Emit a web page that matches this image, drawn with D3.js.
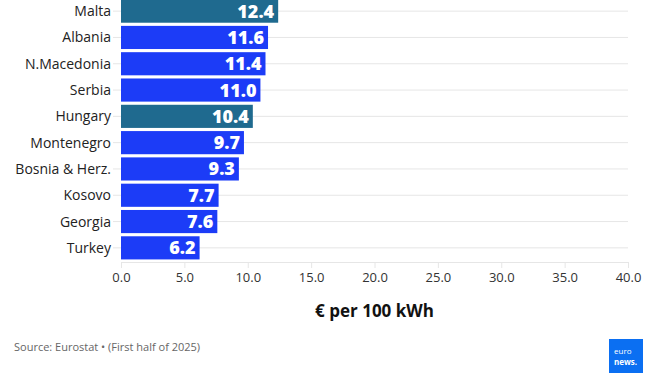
<!DOCTYPE html>
<html><head><meta charset="utf-8">
<script src="https://cdn.jsdelivr.net/npm/d3@7"></script>
<style>
body{margin:0;background:#fff;}
svg{display:block;font-family:"Open Sans",sans-serif;}
</style></head>
<body>
<svg id="c" width="672" height="380"></svg>
<script>
const categories = ["Malta","Albania","N.Macedonia","Serbia","Hungary","Montenegro","Bosnia & Herz.","Kosovo","Georgia","Turkey"];
const values = [12.4,11.6,11.4,11.0,10.4,9.7,9.3,7.7,7.6,6.2];
const highlighted = ["Malta","Hungary"];
const xTicks = [0,5,10,15,20,25,30,35,40];
const axisTitle = "€ per 100 kWh";
const sourceText = "Source: Eurostat • (First half of 2025)";

const svg = d3.select("#c");
const x = d3.scaleLinear().domain([0,40]).range([121,628]);
const y = d3.scaleBand().domain(categories).range([-2,261]).paddingInner(0.12).paddingOuter(0.06);

// gridlines at category centers
svg.append("g").selectAll("line").data(categories).join("line")
  .attr("x1",113).attr("x2",628)
  .attr("y1",d=>y(d)+y.bandwidth()/2).attr("y2",d=>y(d)+y.bandwidth()/2)
  .attr("stroke","#e6e6e6").attr("stroke-width",1);

// bottom axis
const xAxis = svg.append("g").attr("transform","translate(0,262)")
  .call(d3.axisBottom(x).tickValues(xTicks).tickFormat(d3.format(".1f")).tickSize(6).tickPadding(5));
xAxis.select(".domain").attr("stroke","#e6e6e6");
xAxis.selectAll(".tick line").attr("stroke","#e6e6e6");
xAxis.selectAll("text").attr("fill","#333").style("font-size","13px").style("font-family","'Open Sans',sans-serif");

// bars
svg.append("g").selectAll("rect").data(categories).join("rect")
  .attr("x",x(0)).attr("y",d=>y(d))
  .attr("width",(d,i)=>x(values[i])-x(0)).attr("height",y.bandwidth())
  .attr("fill",d=>highlighted.includes(d)?"#1f6a8f":"#1c3cf7");

// value labels
svg.append("g").selectAll("text").data(categories).join("text")
  .attr("x",(d,i)=>x(values[i])-4).attr("y",d=>y(d)+y.bandwidth()/2)
  .attr("dy","0.36em").attr("text-anchor","end")
  .attr("fill","#fff").style("font-weight","800").style("font-size","18px")
  .text((d,i)=>values[i].toFixed(1));

// category labels
svg.append("g").selectAll("text").data(categories).join("text")
  .attr("x",111).attr("y",d=>y(d)+y.bandwidth()/2)
  .attr("dy","0.36em").attr("text-anchor","end")
  .attr("fill","#222").style("font-size","14px")
  .text(d=>d);

// axis title
svg.append("text").attr("x",(x(0)+x(40))/2).attr("y",317)
  .attr("text-anchor","middle").attr("fill","#111")
  .style("font-weight","700").style("font-size","17px").text(axisTitle);

// source
svg.append("text").attr("x",14).attr("y",351).attr("fill","#666")
  .style("font-size","11px").text(sourceText);

// logo
const logo = svg.append("g").attr("transform","translate(609,339)");
logo.append("rect").attr("width",34).attr("height",34).attr("fill","#0b6ff2");
logo.append("text").attr("x",5).attr("y",15).attr("fill","#fff").style("font-size","8px").text("euro");
logo.append("text").attr("x",5).attr("y",26).attr("fill","#fff").style("font-size","8px").style("font-weight","700").text("news.");
</script>
</body></html>
